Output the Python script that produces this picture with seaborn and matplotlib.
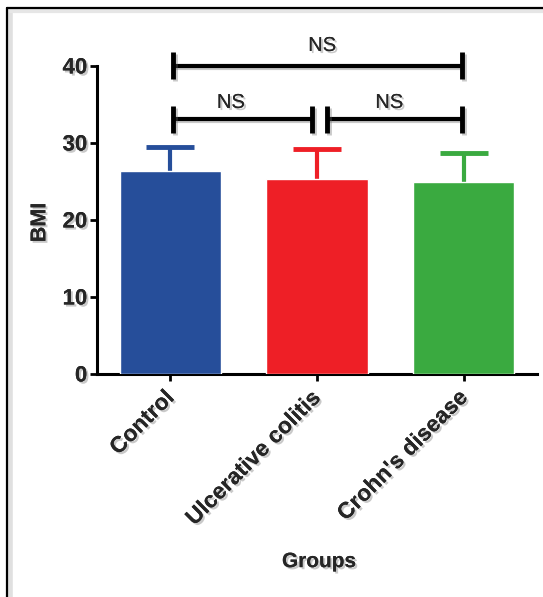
import matplotlib
matplotlib.use("Agg")
import matplotlib.pyplot as plt
import matplotlib.patheffects as pe
from matplotlib.lines import Line2D
import seaborn as sns
import pandas as pd
import numpy as np

groups = ["Control", "Ulcerative colitis", "Crohn's disease"]
bmi_mean = [26.3, 25.3, 24.9]
bmi_sd = [3.1, 3.8, 3.7]
colors = ["#264E9A", "#EE1F26", "#3AAA40"]
y_ticks = [0, 10, 20, 30, 40]
comparisons = [(0, 1, 33.0, "NS"), (1, 2, 33.0, "NS"), (0, 2, 40.0, "NS")]

sns.set_theme(style="ticks")
plt.rcParams['font.family'] = ['Liberation Sans', 'DejaVu Sans']

df = pd.DataFrame({"Groups": groups, "BMI": bmi_mean})

fig = plt.figure(figsize=(5.43, 5.97), dpi=100)
ax = fig.add_axes([97/543, 1-373.5/597, 440/543, (373.5-65.5)/597])

txt_shadow = [pe.withSimplePatchShadow(offset=(1.5, -1.5), shadow_rgbFace=(0.4, 0.4, 0.4), alpha=0.35), pe.Normal()]
line_shadow = [pe.SimpleLineShadow(offset=(1.5, -1.5), shadow_color=(0.4, 0.4, 0.4), alpha=0.35), pe.Normal()]

sns.barplot(data=df, x="Groups", y="BMI", hue="Groups", palette=colors,
            errorbar=None, width=0.69, saturation=1, legend=False, ax=ax, zorder=3)

for i, (m, s, c) in enumerate(zip(bmi_mean, bmi_sd, colors)):
    ax.errorbar(i, m, yerr=[[s], [s]], fmt="none", ecolor=c, elinewidth=3,
                capsize=17, capthick=3.5, zorder=2, clip_on=False)

ax.set_xlim(-0.5, 2.5)
ax.set_ylim(0, 40)
ax.set_yticks(y_ticks)
ax.set_yticklabels([str(t) for t in y_ticks], fontsize=16, fontweight="bold")
ax.set_xticks(range(len(groups)))
ax.set_xticklabels(groups, rotation=45, ha="right", va="center", rotation_mode="anchor",
                   fontsize=16.3, fontweight="bold")
for lab in ax.get_xticklabels() + ax.get_yticklabels():
    lab.set_path_effects(txt_shadow)

ax.set_xlabel("Groups", fontsize=15, fontweight="bold")
ax.set_ylabel("BMI", fontsize=15.5, fontweight="bold")
ax.xaxis.label.set_path_effects(txt_shadow)
ax.yaxis.label.set_path_effects(txt_shadow)
ax.xaxis.set_label_coords(0.505, -0.58)
ax.yaxis.set_label_coords(-0.106, 0.49)

sns.despine(ax=ax)
for sp in ["left", "bottom"]:
    ax.spines[sp].set_linewidth(2.2)
    ax.spines[sp].set_color("black")
ax.tick_params(axis="both", length=5, width=2, color="black", pad=2)
ax.tick_params(axis="x", pad=10)

# significance brackets
for a, b, y, lab in comparisons:
    if b - a == 2:
        x0, x1 = a + 0.02, b - 0.01
        tx, ty = (x0 + x1) / 2 + 0.03, y + 2.6
    elif a == 0:
        x0, x1 = a + 0.02, b - 0.035
        tx, ty = (x0 + x1) / 2 - 0.08, y + 2.2
    else:
        x0, x1 = a + 0.065, b - 0.01
        tx, ty = (x0 + x1) / 2 - 0.035, y + 2.2
    ax.plot([x0, x1], [y, y], color="black", lw=3, clip_on=False, solid_capstyle="butt",
            path_effects=line_shadow)
    for xx in (x0, x1):
        ax.plot([xx, xx], [y - 1.75, y + 1.75], color="black", lw=3.5, clip_on=False,
                solid_capstyle="butt", path_effects=line_shadow)
    ax.text(tx, ty, lab, ha="center", va="center", fontsize=14.5,
            family=["Liberation Sans Narrow", "Liberation Sans", "DejaVu Sans"],
            path_effects=txt_shadow, clip_on=False)

# image frame
fig.add_artist(Line2D([10/543, 10/543], [0, 1-10/597], color=(0.88, 0.88, 0.88), lw=4))
fig.add_artist(Line2D([10/543, 1], [1-10.5/597, 1-10.5/597], color=(0.9, 0.9, 0.9), lw=3))
fig.add_artist(Line2D([7/543, 7/543], [0, 1-8/597], color="black", lw=1.6))
fig.add_artist(Line2D([7/543, 1], [1-8/597, 1-8/597], color="black", lw=1.6))

fig.savefig("out.png", dpi=100)
